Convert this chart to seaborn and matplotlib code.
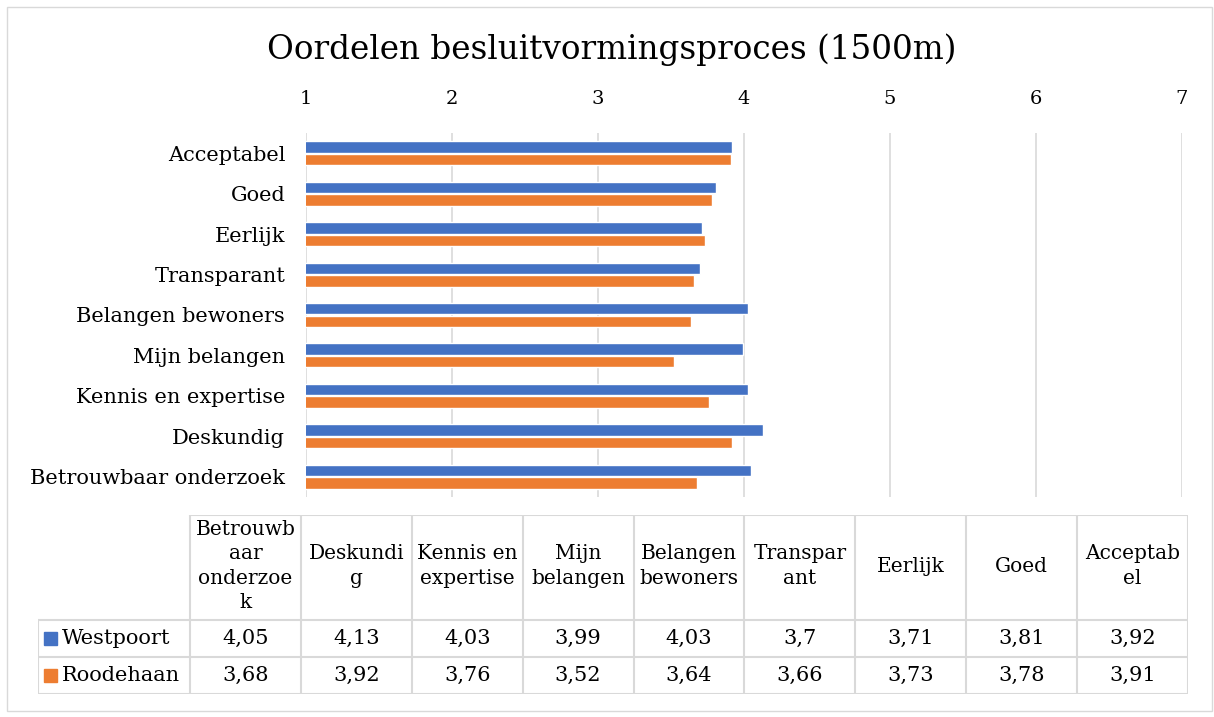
import seaborn as sn
import matplotlib.pyplot as plt
import pandas as pd
from matplotlib.patches import Rectangle

categories = ["Betrouwbaar onderzoek", "Deskundig", "Kennis en expertise", "Mijn belangen",
              "Belangen bewoners", "Transparant", "Eerlijk", "Goed", "Acceptabel"]
header_labels = ["Betrouwb\naar\nonderzoe\nk", "Deskundi\ng", "Kennis en\nexpertise", "Mijn\nbelangen",
                 "Belangen\nbewoners", "Transpar\nant", "Eerlijk", "Goed", "Acceptab\nel"]
westpoort = [4.05, 4.13, 4.03, 3.99, 4.03, 3.70, 3.71, 3.81, 3.92]
roodehaan = [3.68, 3.92, 3.76, 3.52, 3.64, 3.66, 3.73, 3.78, 3.91]
series = ["Westpoort", "Roodehaan"]
colors = ["#4472C4", "#ED7D31"]

df = pd.DataFrame({"categorie": categories * 2,
                   "score": westpoort + roodehaan,
                   "reeks": [series[0]] * 9 + [series[1]] * 9})

sn.set_style("white")
plt.rcParams['font.family'] = ['DejaVu Serif']
plt.rcParams['text.color'] = 'black'
plt.rcParams['xtick.color'] = 'black'
plt.rcParams['ytick.color'] = 'black'

W, H = 1214, 717
fig = plt.figure(figsize=(W / 100, H / 100), dpi=100)

# outer chart border
fig.patches.append(Rectangle((7 / W, 6 / H), 1205 / W, 704 / H, transform=fig.transFigure,
                             fill=False, edgecolor="#D9D9D9", linewidth=1))

def px_axes(x0, y0, x1, y1):
    return fig.add_axes([x0 / W, 1 - y1 / H, (x1 - x0) / W, (y1 - y0) / H])

ax = px_axes(306, 133, 1182, 497)
sn.barplot(data=df, y="categorie", x="score", hue="reeks", order=categories[::-1],
           hue_order=series, palette=colors, saturation=1, orient="h", width=0.62, gap=0.08,
           ax=ax, legend=False, zorder=3)
ax.set_xlim(1, 7)
ax.set_xticks(range(1, 8))
ax.xaxis.tick_top()
ax.tick_params(axis="x", length=0, labelsize=14, pad=18)
ax.tick_params(axis="y", length=0, labelsize=15, pad=15)
ax.grid(axis="x", color="#D9D9D9", linewidth=1.2, zorder=0)
ax.set_axisbelow(True)
for s in ax.spines.values():
    s.set_visible(False)
ax.set_xlabel("")
ax.set_ylabel("")

fig.text(612 / W, 1 - 50 / H, "Oordelen besluitvormingsproces (1500m)", ha="center", va="center",
         fontsize=23.5)

# data table
tax = px_axes(38, 515, 1188, 694)
tax.set_xlim(0, 1150)
tax.set_ylim(179, 0)
tax.axis("off")
first_w = 152
col_w = (1150 - first_w) / 9
row_y = [0, 105, 142, 179]
lc = "#D9D9D9"

def cell_x(i):
    return first_w + i * col_w

# lines
tax.plot([first_w, 1150], [0, 0], color=lc, lw=1.5)
for y in row_y[1:]:
    tax.plot([0, 1150], [y, y], color=lc, lw=1.5)
tax.plot([0, 0], [105, 179], color=lc, lw=1.5)
for i in range(10):
    tax.plot([cell_x(i), cell_x(i)], [0, 179], color=lc, lw=1.5)

for i, lab in enumerate(header_labels):
    tax.text(cell_x(i) + col_w / 2, 51, lab, ha="center", va="center", fontsize=14.5,
             linespacing=1.35)
for r, (name, vals, c) in enumerate(zip(series, [westpoort, roodehaan], colors)):
    yc = (row_y[r + 1] + row_y[r + 2]) / 2
    tax.add_patch(Rectangle((6, yc - 6.5), 13, 13, color=c))
    tax.text(24, yc, name, ha="left", va="center", fontsize=15)
    for i, v in enumerate(vals):
        txt = f"{v:g}".replace(".", ",")
        tax.text(cell_x(i) + col_w / 2, yc, txt, ha="center", va="center", fontsize=15)

plt.savefig("out.png", dpi=100)
